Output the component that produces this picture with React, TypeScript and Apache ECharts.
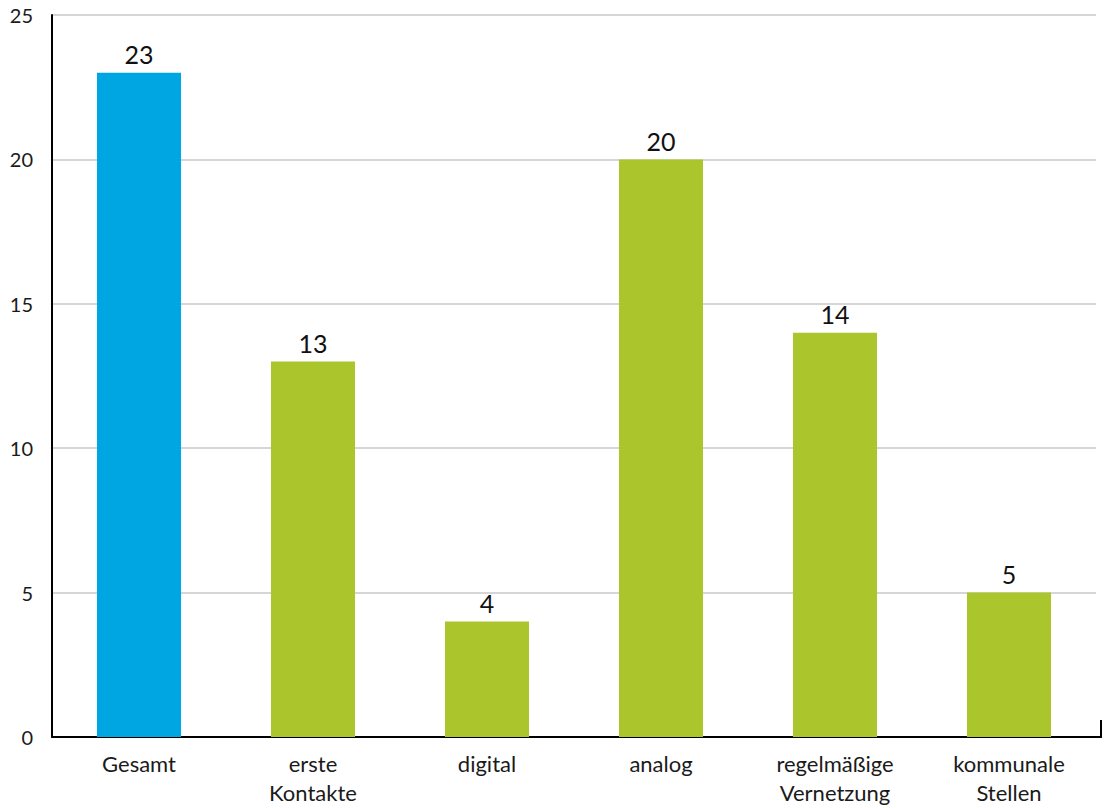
import React, { useEffect, useRef } from "react";
import * as echarts from "echarts";

// Categories and counts
const categories: string[] = [
  "Gesamt",
  "erste\nKontakte",
  "digital",
  "analog",
  "regelmäßige\nVernetzung",
  "kommunale\nStellen",
];
const counts: number[] = [23, 13, 4, 20, 14, 5];
const yTicks = { min: 0, max: 25, interval: 5 };

const BLUE = "#00a6e2";
const GREEN = "#abc52c";
const FONT = "Lato, 'Noto Sans', sans-serif";

// Grid geometry
const GRID_LEFT = 52;
const GRID_RIGHT_PX = 1096;
const GRID_TOP = 15;
const GRID_BOTTOM_PX = 737;
const AXIS_END = 1101;

export default function App() {
  const ref = useRef<HTMLDivElement>(null);

  useEffect(() => {
    if (!ref.current) return;
    const chart = echarts.init(ref.current, null, { renderer: "svg" });
    chart.setOption({
      animation: false,
      backgroundColor: "#ffffff",
      grid: {
        left: GRID_LEFT,
        right: 1106 - GRID_RIGHT_PX,
        top: GRID_TOP,
        bottom: 808 - GRID_BOTTOM_PX,
        containLabel: false,
        outerBoundsMode: "none",
      },
      xAxis: {
        type: "category",
        data: categories,
        axisLine: { show: true, lineStyle: { color: "#000000", width: 2 } },
        axisTick: { show: false },
        axisLabel: {
          color: "#1a1a1a",
          fontFamily: FONT,
          fontSize: 22,
          lineHeight: 29,
          margin: 12,
          interval: 0,
        },
      },
      yAxis: {
        type: "value",
        min: yTicks.min,
        max: yTicks.max,
        interval: yTicks.interval,
        axisLine: { show: true, lineStyle: { color: "#000000", width: 2 } },
        axisTick: { show: false },
        axisLabel: {
          color: "#1a1a1a",
          fontFamily: FONT,
          fontSize: 20,
          margin: 19,
          padding: [6, 0, 0, 0],
        },
        splitLine: { show: true, lineStyle: { color: "#d6d6d6", width: 2 } },
      },
      graphic: [
        {
          type: "polyline",
          shape: {
            points: [
              [GRID_RIGHT_PX, GRID_BOTTOM_PX],
              [AXIS_END, GRID_BOTTOM_PX],
              [AXIS_END, GRID_BOTTOM_PX - 17],
            ],
          },
          style: { stroke: "#000000", lineWidth: 2, fill: null },
          z: 10,
        },
      ],
      series: [
        {
          type: "bar",
          barWidth: "48.3%",
          data: counts.map((v, i) => ({
            value: v,
            itemStyle: { color: i === 0 ? BLUE : GREEN },
          })),
          label: {
            show: true,
            position: "top",
            distance: 6,
            color: "#111111",
            fontFamily: FONT,
            fontSize: 25,
          },
        },
      ],
    });
    return () => chart.dispose();
  }, []);

  return <div ref={ref} style={{ width: 1106, height: 808, position: "absolute", left: 0, top: 0 }} />;
}
